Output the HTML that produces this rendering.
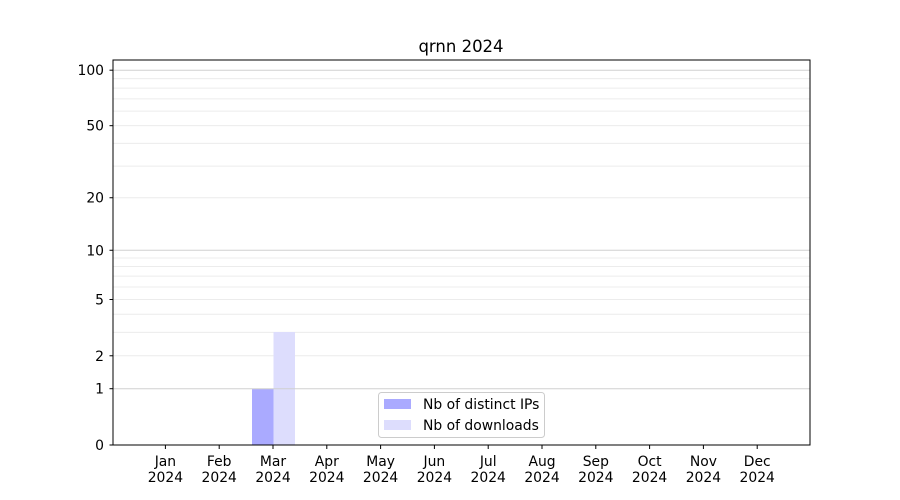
<!DOCTYPE html>
<html><head><meta charset="utf-8"><style>body{margin:0;background:#fff}svg{display:block}text{font-family:"DejaVu Sans","Liberation Sans",sans-serif;font-size:13.9px;fill:#000}</style></head>
<body>
<svg id="s" width="900" height="500" xmlns="http://www.w3.org/2000/svg">
<rect x="0" y="0" width="900" height="500" fill="#fff"/>
<g id="grid"></g>
<rect x="252" y="389" width="21.5" height="56" fill="#aaaaff"/>
<rect x="273.5" y="332" width="21.5" height="113" fill="#ddddfd"/>
<g id="grid2"></g>
<rect x="113" y="60" width="697" height="385" fill="none" stroke="#000" stroke-width="1"/>
<g id="ticks"></g>
<text x="461" y="52" text-anchor="middle" style="font-size:16.5px">qrnn 2024</text>
<rect x="378.5" y="392.5" width="166" height="45" rx="3" fill="#fff" fill-opacity="0.8" stroke="#ccc"/>
<rect x="384" y="399" width="27" height="10" fill="#aaaaff"/>
<rect x="384" y="420" width="27" height="10" fill="#ddddfd"/>
<text x="423" y="409">Nb of distinct IPs</text>
<text x="423" y="430">Nb of downloads</text>
</svg>
<script>
var NS="http://www.w3.org/2000/svg";
function el(p,t,a,txt){var e=document.createElementNS(NS,t);for(var k in a)e.setAttribute(k,a[k]);if(txt)e.textContent=txt;document.getElementById(p).appendChild(e);}
function Y(v){return 445-187*Math.log10(1+v);}
var vals=[];for(var d=1;d<=100;d*=10)for(var m=1;m<10;m++){var v=m*d;if(v<=110)vals.push(v);}
vals.forEach(function(v){var y=Y(v);var maj=(v==1||v==10||v==100);
el(maj?"grid2":"grid","line",{x1:113,x2:810,y1:y,y2:y,stroke:maj?"#d0d0d0":"#ececec","stroke-width":1});});
[[0,"0"],[1,"1"],[2,"2"],[5,"5"],[10,"10"],[20,"20"],[50,"50"],[100,"100"]].forEach(function(t){var y=Y(t[0]);
el("ticks","line",{x1:109.5,x2:113,y1:y,y2:y,stroke:"#000"});
el("ticks","text",{x:104,y:y+5,"text-anchor":"end"},t[1]);});
var mo=["Jan","Feb","Mar","Apr","May","Jun","Jul","Aug","Sep","Oct","Nov","Dec"];
mo.forEach(function(m,i){var x=165.4+i*53.8;
el("ticks","line",{x1:x,x2:x,y1:445,y2:449,stroke:"#000"});
el("ticks","text",{x:x,y:466,"text-anchor":"middle"},m);
el("ticks","text",{x:x,y:482,"text-anchor":"middle"},"2024");});
</script>
</body></html>
